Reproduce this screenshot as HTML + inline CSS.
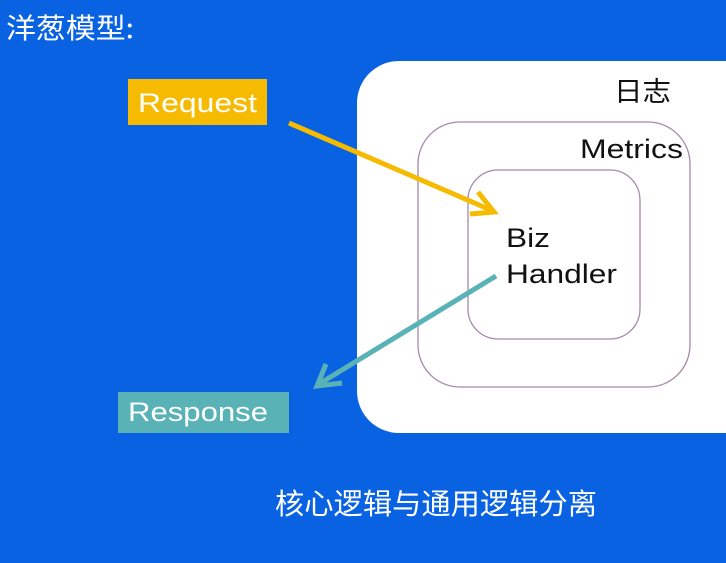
<!DOCTYPE html>
<html><head><meta charset="utf-8"><style>
body{margin:0;width:726px;height:563px;overflow:hidden;background:#0862e2;font-family:"Liberation Sans","Noto Sans CJK SC",sans-serif;}
</style></head><body>
<svg width="726" height="563" xmlns="http://www.w3.org/2000/svg" style="position:absolute;left:0;top:0">
<rect x="0" y="0" width="726" height="563" fill="#0862e2"/>
<text x="6" y="38" font-size="28" fill="#fff" font-family="Noto Sans CJK SC, sans-serif" textLength="128" lengthAdjust="spacingAndGlyphs">洋葱模型:</text>
<rect x="357" y="61" width="420" height="372" rx="42" fill="#fff"/>
<rect x="418" y="122" width="272" height="265" rx="42" fill="none" stroke="#a58aa8" stroke-width="1.3"/>
<rect x="468" y="170" width="172" height="169" rx="30" fill="none" stroke="#a58aa8" stroke-width="1.3"/>
<text x="614" y="101" font-size="27" fill="#111" font-family="Noto Sans CJK SC, sans-serif" textLength="57" lengthAdjust="spacingAndGlyphs">日志</text>
<text x="580" y="158" font-size="27" fill="#111" font-family="Liberation Sans, sans-serif" textLength="103" lengthAdjust="spacingAndGlyphs">Metrics</text>
<text x="506" y="247" font-size="27" fill="#111" font-family="Liberation Sans, sans-serif" textLength="44" lengthAdjust="spacingAndGlyphs">Biz</text>
<text x="506" y="283" font-size="27" fill="#111" font-family="Liberation Sans, sans-serif" textLength="111" lengthAdjust="spacingAndGlyphs">Handler</text>
<rect x="128" y="79" width="139" height="46" fill="#f6bb00"/>
<text x="138" y="112" font-size="27" fill="#fff" font-family="Liberation Sans, sans-serif" textLength="119" lengthAdjust="spacingAndGlyphs">Request</text>
<rect x="118" y="392" width="171" height="41" fill="#58b2b6"/>
<text x="128" y="421" font-size="27" fill="#fff" font-family="Liberation Sans, sans-serif" textLength="140" lengthAdjust="spacingAndGlyphs">Response</text>
<g stroke="#f6bb00" stroke-width="5" fill="none" stroke-linecap="butt">
<line x1="289" y1="123" x2="493" y2="211"/>
<polyline points="478,192 494,212 470,214"/>
</g>
<g stroke="#58b2b6" stroke-width="5" fill="none">
<line x1="496" y1="276" x2="319" y2="384"/>
<polyline points="326,364 317,386 342,383"/>
</g>
<text x="275" y="514" font-size="29" fill="#fff" font-family="Noto Sans CJK SC, sans-serif" textLength="322" lengthAdjust="spacingAndGlyphs">核心逻辑与通用逻辑分离</text>
</svg>
</body></html>
